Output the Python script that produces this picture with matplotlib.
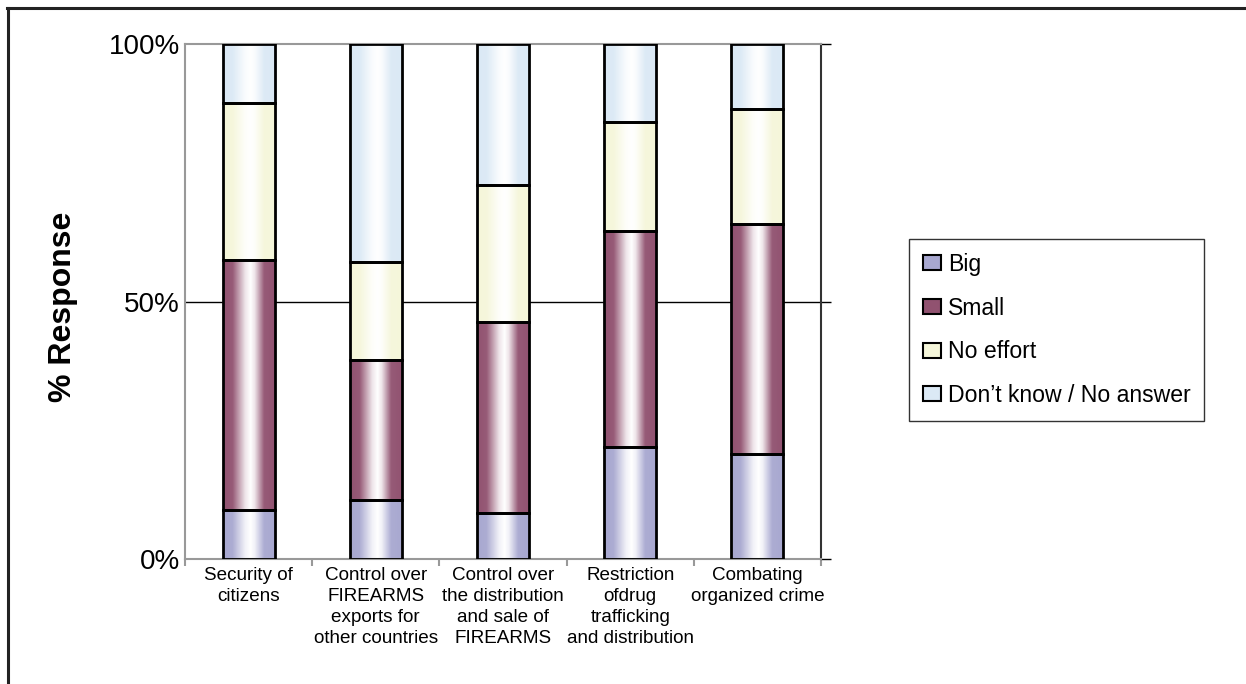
import numpy as np
import matplotlib
matplotlib.use("Agg")
import matplotlib.pyplot as plt
from matplotlib.colors import to_rgb
from matplotlib.patches import Patch
from matplotlib.lines import Line2D

plt.rcParams["font.family"] = ["Liberation Sans", "DejaVu Sans"]

# ------------------ DATA ------------------
categories = [
    "Security of\ncitizens",
    "Control over\nFIREARMS\nexports for\nother countries",
    "Control over\nthe distribution\nand sale of\nFIREARMS",
    "Restriction\nofdrug\ntrafficking\nand distribution",
    "Combating\norganized crime",
]
series_names = ["Big", "Small", "No effort", "Don\u2019t know / No answer"]
big = [9.5, 11.5, 9.0, 21.8, 20.4]
small = [48.5, 27.2, 37.1, 41.8, 44.6]
no_effort = [30.5, 18.9, 26.5, 21.2, 22.4]
dont_know = [11.5, 42.4, 27.4, 15.2, 12.6]
series_colors = ["#a8a8d0", "#915270", "#f5f6da", "#dbe9f5"]

# ------------------ FIGURE ------------------
fig = plt.figure(figsize=(12.46, 6.84), dpi=100)
ax = fig.add_axes([185 / 1246, 1 - 559 / 684, (821 - 185) / 1246, (559 - 44) / 684])

x = np.arange(len(categories))
width = 0.41

# cylinder-like shading: base colour at the edges, white in the middle
prof_x = [0, 0.18, 0.42, 0.52, 0.6, 0.78, 1]
prof_w = [0, 0.05, 0.85, 1.0, 0.85, 0.05, 0]
cols = np.linspace(0, 1, 120)
mix = np.interp(cols, prof_x, prof_w)

bottom = np.zeros(len(categories))
for vals, col in zip([big, small, no_effort, dont_know], series_colors):
    vals = np.array(vals)
    base = np.array(to_rgb(col))
    grad = base[None, :] * (1 - mix[:, None]) + mix[:, None] * 1.0
    img = grad[None, :, :]
    for xi, b, v in zip(x, bottom, vals):
        ax.imshow(img, extent=[xi - width / 2, xi + width / 2, b, b + v],
                  aspect="auto", interpolation="bilinear", zorder=2)
    ax.bar(x, vals, width, bottom=bottom, facecolor="none",
           edgecolor="black", linewidth=2, zorder=3)
    bottom += vals

ax.set_xlim(-0.5, 4.5)
ax.set_ylim(0, 100)
ax.axhline(50, color="black", linewidth=1, zorder=1)

# spines
for s in ["left", "bottom", "top"]:
    ax.spines[s].set_color("#999999")
    ax.spines[s].set_linewidth(1.5)
ax.spines["right"].set_color("#333333")
ax.spines["right"].set_linewidth(1.5)

# y axis: labels left, tick marks on the right
ax.set_yticks([0, 50, 100])
ax.set_yticklabels(["0%", "50%", "100%"], fontsize=20)
ax.tick_params(axis="y", which="major", left=False, right=True, direction="out",
               length=7.5, width=1, color="black", pad=-3.9)

# x axis: labels at centres, ticks at category boundaries
ax.set_xticks(x)
ax.set_xticklabels(categories, fontsize=13.6, linespacing=1.3)
ax.tick_params(axis="x", which="major", length=0, pad=6)
ax.set_xticks(np.arange(-0.5, 5.0, 1.0), minor=True)
ax.tick_params(axis="x", which="minor", length=5, width=1.5, color="#999999",
               direction="out")

ax.set_ylabel("% Response", fontsize=23, fontweight="bold")
ax.yaxis.set_label_coords(-0.168, 0.49)

# legend
handles = [Patch(facecolor=c, edgecolor="black", linewidth=1.5) for c in series_colors]
leg = fig.legend(handles, series_names, loc="upper left",
                 bbox_to_anchor=(909 / 1246, 1 - 239 / 684), borderaxespad=0,
                 fontsize=16.6, frameon=True, fancybox=False,
                 handlelength=0.78, handleheight=0.62, handletextpad=0.3,
                 labelspacing=0.9, borderpad=0.6)
leg.get_frame().set_edgecolor("black")
leg.get_frame().set_linewidth(1)

# outer border (top and left only)
fig.add_artist(Line2D([7 / 1246, 1], [1 - 8 / 684, 1 - 8 / 684],
                      transform=fig.transFigure, color="#222222", linewidth=2.2))
fig.add_artist(Line2D([8 / 1246, 8 / 1246], [0, 1 - 8 / 684],
                      transform=fig.transFigure, color="#222222", linewidth=2.2))

fig.savefig("out.png", dpi=100)
